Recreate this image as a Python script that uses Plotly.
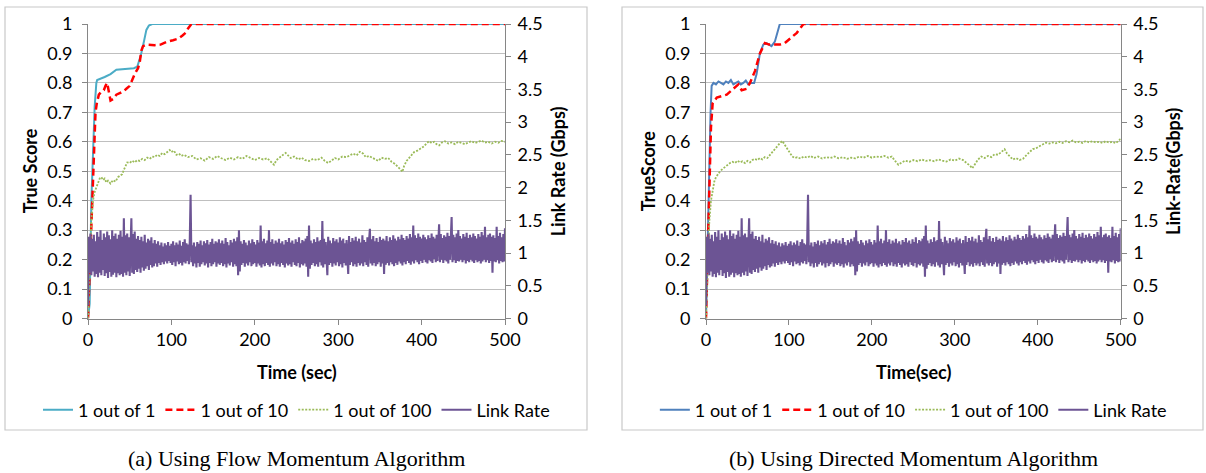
import plotly.graph_objects as go

W, H = 1206, 473

# ---------------- data ----------------
# Left panel (a): Flow Momentum Algorithm  -- True Score vs time (sec)
A_T1 = [0, 2, 4, 8, 10, 11, 20, 27, 34, 45, 55, 59, 63, 67, 70, 73, 77, 500]
A_S1 = [0, 0.05, 0.4, 0.72, 0.8, 0.81, 0.82, 0.83, 0.845, 0.847, 0.85, 0.855, 0.89, 0.94, 0.98, 0.995, 1.0, 1.0]

A_T10 = [0, 3, 5.5, 9, 10.5, 13, 16, 19, 21, 23, 25, 27, 30, 34, 38, 42, 46, 50, 53, 56, 60, 62, 64, 66, 70,
         80, 87, 95, 102, 108, 113, 117, 120, 124, 500]
A_S10 = [0, 0.25, 0.4, 0.7, 0.73, 0.76, 0.77, 0.775, 0.79, 0.8, 0.77, 0.74, 0.745, 0.76, 0.765, 0.77, 0.78, 0.79,
         0.81, 0.83, 0.85, 0.87, 0.91, 0.925, 0.93, 0.928, 0.93, 0.94, 0.945, 0.95, 0.96, 0.97, 0.985, 1.0, 1.0]

A_T100 = [0, 2, 4, 6, 8, 10, 12, 14, 16, 18, 20, 22, 24, 27, 30, 33, 36, 39, 41, 43, 45, 47, 50, 53, 56, 59, 62,
          65, 68, 71, 74, 77, 80, 83, 86, 89, 92, 95, 98, 100, 103, 106, 109, 112, 115, 120, 125, 130, 135, 140,
          145, 150, 155, 160, 165, 170, 175, 180, 185, 190, 195, 200, 205, 210, 215, 220, 223, 226, 230, 234, 237,
          240, 243, 247, 252, 256, 260, 265, 270, 275, 280, 284, 288, 292, 296, 300, 305, 310, 315, 318, 322, 326,
          330, 333, 337, 341, 345, 348, 352, 356, 360, 364, 368, 372, 375, 377, 379, 382, 385, 388, 391, 395, 399,
          403, 406, 409, 412, 415, 418, 421, 424, 428, 432, 436, 440, 444, 448, 452, 456, 460, 464, 468, 472, 476,
          480, 484, 488, 492, 496, 500]
A_S100 = [0, 0.2, 0.33, 0.40, 0.43, 0.445, 0.46, 0.475, 0.48, 0.47, 0.475, 0.462, 0.468, 0.458, 0.47, 0.465, 0.48,
          0.485, 0.49, 0.505, 0.52, 0.53, 0.528, 0.536, 0.53, 0.538, 0.535, 0.542, 0.538, 0.546, 0.542, 0.55, 0.548,
          0.556, 0.552, 0.562, 0.558, 0.566, 0.572, 0.565, 0.57, 0.556, 0.56, 0.552, 0.556, 0.548, 0.552, 0.54,
          0.544, 0.536, 0.548, 0.542, 0.552, 0.544, 0.538, 0.546, 0.54, 0.548, 0.542, 0.552, 0.545, 0.538, 0.545,
          0.54, 0.544, 0.532, 0.522, 0.538, 0.548, 0.556, 0.562, 0.552, 0.545, 0.55, 0.54, 0.546, 0.538, 0.535,
          0.542, 0.538, 0.546, 0.535, 0.528, 0.536, 0.545, 0.54, 0.55, 0.548, 0.556, 0.56, 0.554, 0.566, 0.56, 0.548,
          0.552, 0.545, 0.54, 0.535, 0.546, 0.542, 0.545, 0.532, 0.525, 0.515, 0.505, 0.498, 0.518, 0.535, 0.545,
          0.552, 0.565, 0.57, 0.578, 0.585, 0.595, 0.602, 0.596, 0.6, 0.592, 0.588, 0.597, 0.602, 0.594, 0.598,
          0.592, 0.6, 0.596, 0.592, 0.598, 0.602, 0.596, 0.6, 0.604, 0.597, 0.6, 0.594, 0.6, 0.597, 0.603, 0.6]

# Right panel (b): Directed Momentum Algorithm
B_T1 = [0, 2.8, 5.5, 6.8, 9, 12, 15, 18, 21, 24, 27, 30, 33, 36, 39, 42, 45, 48, 51, 54, 58, 61, 65, 69, 73, 79,
        83, 89, 500]
B_S1 = [0, 0.4, 0.7, 0.79, 0.8, 0.795, 0.805, 0.8, 0.795, 0.805, 0.8, 0.81, 0.795, 0.8, 0.805, 0.795, 0.8, 0.808,
        0.795, 0.8, 0.8, 0.83, 0.9, 0.93, 0.935, 0.925, 0.94, 1.0, 1.0]

B_T10 = [0, 3, 6, 8, 13, 19, 25, 33, 39, 43, 49, 53, 59, 65, 71, 76, 89, 95, 101, 109.5, 117.5, 500]
B_S10 = [0, 0.35, 0.65, 0.73, 0.75, 0.755, 0.76, 0.78, 0.795, 0.775, 0.78, 0.8, 0.84, 0.9, 0.935, 0.93, 0.93,
         0.935, 0.95, 0.97, 1.0, 1.0]

B_T100 = [0, 2, 4, 6, 8, 10, 12, 14, 17, 20, 23, 26, 29, 32, 35, 38, 41, 44, 47, 50, 53, 56, 59, 62, 65, 68, 71,
          74, 77, 80, 83, 86, 89, 92, 95, 98, 101, 104, 107, 110, 114, 118, 122, 126, 130, 135, 140, 145, 150, 155,
          160, 165, 170, 175, 180, 185, 190, 195, 200, 205, 210, 215, 220, 224, 228, 232, 236, 240, 245, 250, 255,
          260, 265, 270, 275, 280, 285, 290, 295, 300, 305, 310, 315, 318, 321, 324, 328, 332, 336, 340, 344, 348,
          352, 356, 360, 363, 366, 370, 374, 378, 382, 386, 390, 394, 398, 402, 406, 410, 414, 418, 422, 426, 430,
          434, 438, 442, 446, 450, 454, 458, 462, 466, 470, 474, 478, 482, 486, 490, 494, 498, 500]
B_S100 = [0, 0.2, 0.33, 0.4, 0.44, 0.465, 0.48, 0.49, 0.5, 0.508, 0.515, 0.52, 0.528, 0.532, 0.528, 0.536, 0.53,
          0.534, 0.528, 0.535, 0.53, 0.538, 0.542, 0.538, 0.545, 0.54, 0.548, 0.545, 0.555, 0.565, 0.578, 0.585,
          0.595, 0.603, 0.59, 0.58, 0.565, 0.55, 0.545, 0.548, 0.543, 0.55, 0.546, 0.552, 0.545, 0.55, 0.543, 0.548,
          0.545, 0.55, 0.544, 0.548, 0.542, 0.546, 0.544, 0.55, 0.546, 0.552, 0.546, 0.55, 0.548, 0.552, 0.546,
          0.55, 0.535, 0.522, 0.53, 0.536, 0.532, 0.538, 0.534, 0.54, 0.535, 0.538, 0.534, 0.54, 0.536, 0.533,
          0.54, 0.536, 0.543, 0.538, 0.526, 0.52, 0.51, 0.525, 0.54, 0.55, 0.545, 0.552, 0.548, 0.558, 0.556, 0.565,
          0.575, 0.56, 0.55, 0.54, 0.545, 0.538, 0.542, 0.555, 0.565, 0.575, 0.578, 0.585, 0.592, 0.597, 0.594,
          0.598, 0.595, 0.6, 0.596, 0.602, 0.598, 0.604, 0.598, 0.6, 0.596, 0.603, 0.598, 0.602, 0.598, 0.6, 0.596,
          0.602, 0.597, 0.6, 0.595, 0.606, 0.61]

# Link rate (Gbps), one sample per second, 0..500 s (same trace in both panels)
LINK_T = list(range(0, 501))
LINK_RATE = [
    0.20, 1.25, 0.70, 1.30, 0.66, 1.22, 0.72, 1.28, 0.64, 1.18, 0.68, 1.32, 0.63, 1.25, 0.70, 1.35, 0.66, 1.20, 0.74, 1.30,
    0.65, 1.24, 0.69, 1.33, 0.62, 1.27, 0.71, 1.21, 0.64, 1.35, 0.67, 1.26, 0.70, 1.30, 0.63, 1.22, 0.69, 1.28, 0.66, 1.34,
    0.68, 1.25, 0.64, 1.53, 0.70, 1.27, 0.66, 1.30, 0.72, 1.24, 0.65, 1.36, 1.53, 0.70, 1.29, 0.68, 1.33, 0.74, 1.22, 0.71,
    1.26, 0.76, 1.20, 0.70, 1.25, 0.78, 1.18, 0.73, 1.28, 0.76, 1.16, 0.80, 1.22, 0.74, 1.19, 0.82, 1.24, 0.78, 1.15, 0.80,
    1.20, 0.84, 1.14, 0.79, 1.18, 0.85, 1.12, 0.82, 1.16, 0.86, 1.10, 0.83, 1.15, 0.87, 1.12, 0.84, 1.17, 0.88, 1.11, 0.85,
    1.14, 0.82, 1.18, 0.86, 1.12, 0.80, 1.16, 0.87, 1.13, 0.83, 1.19, 0.85, 1.11, 0.81, 1.17, 0.86, 1.21, 0.84, 1.15, 0.88,
    1.13, 0.83, 1.18, 1.89, 0.86, 1.12, 0.80, 1.16, 0.84, 1.10, 0.78, 1.17, 0.85, 1.14, 0.79, 1.19, 0.83, 1.12, 0.86, 1.18,
    0.81, 1.15, 0.84, 1.20, 0.78, 1.13, 0.85, 1.17, 0.80, 1.22, 0.83, 1.14, 0.86, 1.18, 0.79, 1.16, 0.84, 1.21, 0.82, 1.15,
    0.85, 1.19, 0.80, 1.14, 0.83, 1.23, 0.78, 1.17, 0.84, 1.12, 0.81, 1.20, 0.86, 1.16, 0.79, 1.22, 0.83, 1.18, 0.80, 1.24,
    0.66, 1.35, 0.72, 1.18, 0.82, 1.14, 0.85, 1.20, 0.79, 1.16, 0.84, 1.12, 0.81, 1.19, 0.86, 1.15, 0.80, 1.21, 0.83, 1.17,
    0.85, 1.13, 0.79, 1.20, 0.84, 1.16, 0.81, 1.42, 0.78, 1.18, 0.83, 1.22, 0.80, 1.15, 0.85, 1.19, 0.82, 1.35, 0.79, 1.17,
    0.84, 1.21, 0.81, 1.14, 0.86, 1.19, 0.80, 1.16, 0.83, 1.22, 0.79, 1.15, 0.85, 1.18, 0.82, 1.13, 0.78, 1.20, 0.84, 1.17,
    0.81, 1.23, 0.83, 1.16, 0.79, 1.19, 0.86, 1.14, 0.82, 1.21, 0.80, 1.17, 0.85, 1.24, 0.78, 1.15, 0.83, 1.20, 0.81, 1.18,
    0.84, 1.22, 0.79, 1.26, 0.64, 1.42, 0.76, 1.19, 0.82, 1.15, 0.85, 1.21, 0.80, 1.17, 0.83, 1.24, 0.79, 1.18, 0.86, 1.20,
    0.81, 1.49, 0.78, 1.22, 0.83, 1.17, 0.80, 0.66, 1.25, 0.82, 1.19, 0.85, 1.15, 0.79, 1.23, 0.84, 1.18, 0.81, 1.21, 0.86,
    1.16, 0.80, 1.24, 0.83, 1.19, 0.78, 1.22, 0.85, 1.15, 0.81, 1.20, 0.84, 0.68, 1.26, 0.82, 1.17, 0.86, 1.23, 0.80, 1.19,
    0.83, 1.25, 0.79, 1.18, 0.85, 1.22, 0.81, 1.16, 0.84, 1.27, 0.80, 1.20, 0.86, 1.17, 0.82, 1.24, 0.79, 1.19, 1.37, 0.84,
    1.21, 0.81, 1.26, 0.85, 1.18, 0.80, 1.23, 0.83, 1.17, 0.86, 1.25, 0.79, 1.20, 0.84, 1.22, 0.68, 1.19, 0.82, 1.26, 0.85,
    1.18, 0.81, 1.24, 0.86, 1.20, 0.83, 1.27, 0.80, 1.22, 0.85, 1.19, 0.82, 1.25, 0.87, 1.21, 0.84, 1.28, 0.81, 1.23, 0.86,
    1.20, 0.83, 1.26, 0.88, 1.22, 0.85, 1.29, 0.82, 1.24, 0.87, 1.42, 0.84, 1.27, 0.89, 1.23, 0.86, 1.30, 0.83, 1.25, 0.88,
    1.22, 0.85, 1.28, 0.90, 1.24, 0.86, 1.21, 0.84, 1.27, 0.89, 1.23, 0.87, 1.30, 0.85, 1.25, 0.91, 1.22, 0.86, 1.28, 0.88,
    1.24, 1.44, 0.86, 1.29, 0.90, 1.23, 0.85, 1.27, 0.89, 1.25, 0.87, 1.31, 0.84, 1.26, 0.90, 1.22, 1.55, 0.86, 1.28, 0.89,
    1.24, 0.85, 1.30, 0.88, 1.35, 0.87, 1.26, 0.90, 1.22, 0.86, 1.29, 0.89, 1.25, 0.84, 1.31, 0.88, 1.23, 0.86, 1.28, 0.90,
    1.24, 0.87, 1.30, 0.85, 1.26, 0.89, 1.22, 0.86, 1.29, 0.88, 1.25, 0.84, 1.32, 0.87, 1.27, 0.90, 1.40, 0.86, 1.24, 0.89,
    1.28, 0.85, 1.30, 0.88, 1.25, 0.70, 1.27, 0.87, 1.23, 0.86, 1.40, 0.89, 1.26, 0.84, 1.31, 0.88, 1.24, 0.86, 1.29, 0.87,
    1.38,
]

X_TICKS = [0, 100, 200, 300, 400, 500]
SERIES_NAMES = ["1 out of 1", "1 out of 10", "1 out of 100", "Link Rate"]
CAPTIONS = ["(a) Using Flow Momentum Algorithm", "(b) Using Directed Momentum Algorithm"]
Y_TITLES = ["True Score", "TrueScore"]
Y2_TITLES = ["Link Rate (Gbps)", "Link-Rate(Gbps)"]
X_TITLES = ["Time (sec)", "Time(sec)"]

# ---------------- styling ----------------
FONT = "Lato"
FS = 18
TEAL, BLUE, RED, GREEN, PURPLE = "#4BACC6", "#4F81BD", "#FF0000", "#9BBB59", "#6C5494"
AXC = "#868686"
GRID = "#BFBFBF"


def fx(p):
    return p / W


def fy(p):
    return 1 - p / H


PANELS = [
    dict(x0=88, x1=505, box=(5, 587), c1=TEAL, legend="legend",
         t1=A_T1, s1=A_S1, t10=A_T10, s10=A_S10, t100=A_T100, s100=A_S100),
    dict(x0=706, x1=1120.7, box=(622, 1203), c1=BLUE, legend="legend2",
         t1=B_T1, s1=B_S1, t10=B_T10, s10=B_S10, t100=B_T100, s100=B_S100),
]
Y_TOP, Y_BOT = 24, 318.5

fig = go.Figure()
layout = dict(width=W, height=H, margin=dict(l=0, r=0, t=0, b=0, autoexpand=False),
              paper_bgcolor="white", plot_bgcolor="white",
              font=dict(family=FONT, size=FS, color="black"),
              shapes=[], annotations=[])

for i, p in enumerate(PANELS):
    xa = "x" if i == 0 else "x2"
    ya = "y" if i == 0 else "y3"
    ya2 = "y2" if i == 0 else "y4"
    xk = "xaxis" if i == 0 else "xaxis2"
    yk = "yaxis" if i == 0 else "yaxis3"
    y2k = "yaxis2" if i == 0 else "yaxis4"

    fig.add_trace(go.Scatter(x=p["t1"], y=p["s1"], name=SERIES_NAMES[0], mode="lines",
                             line=dict(color=p["c1"], width=2), xaxis=xa, yaxis=ya, legend=p["legend"]))
    fig.add_trace(go.Scatter(x=p["t10"], y=p["s10"], name=SERIES_NAMES[1], mode="lines",
                             line=dict(color=RED, width=2.5, dash="7px,4px"), xaxis=xa, yaxis=ya,
                             legend=p["legend"]))
    fig.add_trace(go.Scatter(x=p["t100"], y=p["s100"], name=SERIES_NAMES[2], mode="lines",
                             line=dict(color=GREEN, width=1.8, dash="2px,1.5px"), xaxis=xa, yaxis=ya,
                             legend=p["legend"]))
    fig.add_trace(go.Scatter(x=LINK_T, y=LINK_RATE, name=SERIES_NAMES[3], mode="lines",
                             line=dict(color=PURPLE, width=2.1), xaxis=xa, yaxis=ya2,
                             legend=p["legend"]))

    common = dict(ticks="outside", ticklen=5, tickcolor=AXC, showline=True, linecolor=AXC, linewidth=1,
                  zeroline=False, automargin=False, tickfont=dict(size=FS))
    layout[xk] = dict(domain=[fx(p["x0"]), fx(p["x1"])], anchor=ya, range=[0, 500],
                      tickvals=X_TICKS, showgrid=False, **common)
    layout[yk] = dict(domain=[fy(Y_BOT), fy(Y_TOP)], anchor=xa, range=[0, 1], dtick=0.1,
                      tickformat="~g", showgrid=True, gridcolor=GRID, gridwidth=1,
                      ticklabelstandoff=6, **common)
    layout[y2k] = dict(overlaying=ya, anchor=xa, side="right", range=[0, 4.5], dtick=0.5,
                       tickformat="~g", showgrid=False, ticklabelstandoff=3, **common)

    cx = (p["x0"] + p["x1"]) / 2
    layout[p["legend"]] = dict(orientation="h", x=fx(cx), xanchor="center", y=fy(410), yanchor="middle",
                               font=dict(size=FS), itemwidth=30, bgcolor="rgba(0,0,0,0)",
                               traceorder="normal")

    layout["shapes"].append(dict(type="rect", xref="paper", yref="paper",
                                 x0=fx(p["box"][0]), x1=fx(p["box"][1]), y0=fy(430), y1=fy(7),
                                 line=dict(color="#C8C8C8", width=1.2), layer="below"))

    layout["annotations"] += [
        dict(text="<b>%s</b>" % Y_TITLES[i], x=fx(p["x0"] - 58), y=fy((Y_TOP + Y_BOT) / 2),
             xref="paper", yref="paper", xanchor="center", yanchor="middle", textangle=-90,
             showarrow=False, font=dict(size=FS)),
        dict(text="<b>%s</b>" % Y2_TITLES[i], x=fx(p["x1"] + 53), y=fy((Y_TOP + Y_BOT) / 2),
             xref="paper", yref="paper", xanchor="center", yanchor="middle", textangle=-90,
             showarrow=False, font=dict(size=FS)),
        dict(text="<b>%s</b>" % X_TITLES[i], x=fx(cx), y=fy(372), xref="paper", yref="paper",
             xanchor="center", yanchor="middle", showarrow=False, font=dict(size=FS)),
        dict(text=CAPTIONS[i], x=fx(cx), y=fy(458), xref="paper", yref="paper",
             xanchor="center", yanchor="middle", showarrow=False,
             font=dict(family="Liberation Serif", size=22)),
    ]

fig.update_layout(**layout)
fig.write_html("out.html", config={"displayModeBar": False},
               post_script="document.body.style.margin='0';document.body.style.overflow='hidden';")
